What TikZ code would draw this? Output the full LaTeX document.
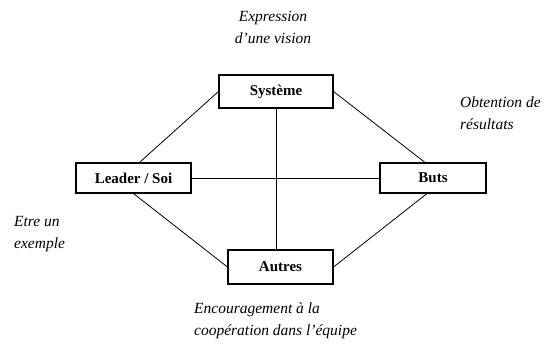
\documentclass[tikz,border=0pt]{standalone}
\usepackage{fontspec}
\setmainfont{Liberation Serif}
\usetikzlibrary{positioning}

\tikzset{
  pole/.style={draw, line width=1.1pt, minimum height=32pt, inner sep=0pt,
    font=\fontsize{15}{18}\selectfont\bfseries},
  role/.style={inner sep=0pt, font=\fontsize{15.5}{22}\selectfont\itshape},
  link/.style={line width=0.8pt}
}

\begin{document}
\begin{tikzpicture}[x=1pt, y=1pt]
\useasboundingbox (0,0) rectangle (549,343);

\node[pole, minimum width=114pt, minimum height=33pt] (sys) at (276,251.5) {Système};
\node[pole, minimum width=115pt, minimum height=30pt] (leader) at (133.5,165) {Leader / Soi};
\node[pole, minimum width=106pt, minimum height=30pt] (buts) at (433,165) {Buts};
\node[pole, minimum width=105pt, minimum height=34pt] (autres) at (280.5,76) {Autres};

\node[role, align=center, anchor=north] (vision) at (273,332) {Expression\\d'une vision};
\node[role, align=left, anchor=north west] (resultats) at (460,246) {Obtention de\\résultats};
\node[role, align=left, anchor=north west] (exemple) at (14,127) {Etre un\\exemple};
\node[role, align=left, anchor=north west] (equipe) at (194,40) {Encouragement à la\\coopération dans l'équipe};

\draw[link] (sys.west) -- ([xshift=6pt]leader.north);
\draw[link] (sys.east) -- ([xshift=-8pt]buts.north);
\draw[link] (leader.south) -- (autres.west);
\draw[link] ([xshift=-6pt]buts.south) -- (autres.east);
\draw[link] (leader.east) -- (buts.west);
\draw[link] (sys.south) -- (sys.south |- autres.north);
\end{tikzpicture}
\end{document}
